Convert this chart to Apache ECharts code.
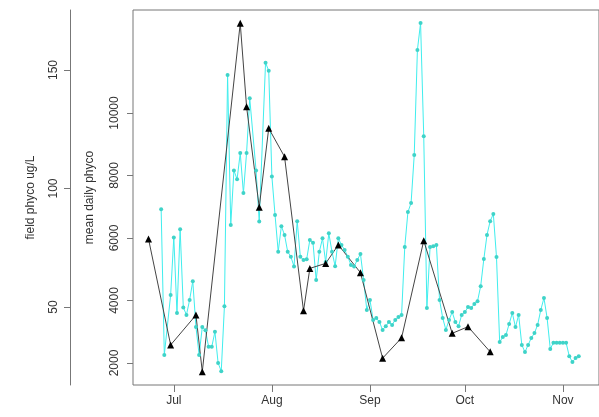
<!DOCTYPE html>
<html>
<head>
<meta charset="utf-8">
<script src="https://cdn.jsdelivr.net/npm/echarts@6/dist/echarts.min.js"></script>
<style>
html,body{margin:0;padding:0;background:#fff;}
#c{width:599px;height:417px;}
</style>
</head>
<body>
<div id="c"></div>
<script>
// Month ticks (day of year) and labels
const monthTicks = [182, 213, 244, 274, 305];
const monthLabels = ['Jul', 'Aug', 'Sep', 'Oct', 'Nov'];

// Field samples (black triangles, outer axis)
const fieldDays  = [174, 181, 189, 191, 203, 205, 209, 212, 217, 223, 225, 230, 234, 241, 248, 254, 261, 270, 275, 282];
const fieldPhyco = [78.7, 34.0, 46.6, 22.7, 169.7, 134.5, 92.1, 125.4, 113.4, 48.4, 66.3, 68.4, 76.2, 64.5, 28.4, 37.0, 78.0, 38.9, 41.7, 31.1];

// Mean daily phyco (cyan points, inner axis)
const dailyDays = [178,179,181,182,183,184,185,186,187,188,189,190,191,192,193,194,195,196,197,198,199,200,201,202,203,204,205,206,208,209,211,212,213,214,215,216,217,218,219,220,221,222,223,224,225,226,227,228,229,230,231,232,233,234,235,236,237,238,239,240,241,242,243,244,245,246,247,248,249,250,251,252,253,254,255,256,257,258,259,260,261,262,263,264,265,266,267,268,269,270,271,272,273,274,275,276,277,278,279,280,281,282,283,284,285,286,287,288,289,290,291,292,293,294,295,296,297,298,299,300,301,302,303,304,305,306,307,308,309,310];
const dailyPhyco = [6920,2260,4180,6020,3600,6280,3780,3540,4020,4620,3150,2260,3150,3050,2520,2520,3000,2000,1740,3820,11220,6420,8160,7880,8720,7440,8720,10470,8160,6530,11610,11350,7970,6740,5560,6380,6100,5560,5400,5090,6540,5400,5300,5320,5940,5850,4660,5560,5990,5230,6150,5560,5100,5990,5780,5620,5400,5140,5090,5300,5490,4660,3700,4020,3380,3440,3310,3060,3180,3310,3220,3380,3470,3540,5710,6830,7120,8660,12020,12880,9260,3760,5710,5740,5780,4020,3440,3060,3380,3630,3310,3180,3540,3630,3790,3760,3890,3980,4460,5330,6100,6540,6770,5390,2670,2830,2900,3250,3600,3150,3540,2580,2350,2580,2800,2960,3220,3700,4080,3440,2450,2650,2650,2650,2650,2650,2220,2030,2160,2220];

// Tick values
const fieldTicks = [50, 100, 150];
const dailyTicks = [2000, 4000, 6000, 8000, 10000];

const txt = {color: '#333', fontFamily: 'Liberation Sans, Arial, sans-serif', fontSize: 12};

const chart = echarts.init(document.getElementById('c'), null, {renderer: 'canvas'});
chart.setOption({
  animation: false,
  backgroundColor: '#fff',
  grid: {left: 133, top: 10, width: 480, height: 375, show: true, borderColor: '#777', borderWidth: 1, backgroundColor: 'transparent'},
  xAxis: {
    type: 'value', min: 169.1, max: 316.4,
    axisLine: {show: false},
    splitLine: {show: false},
    axisTick: {show: true, customValues: monthTicks, length: 7, lineStyle: {color: '#777'}},
    axisLabel: Object.assign({customValues: monthTicks, margin: 10,
      formatter: v => monthLabels[monthTicks.indexOf(v)]}, txt)
  },
  yAxis: [
    {
      type: 'value', position: 'left', offset: 63, min: 17.1, max: 175.3,
      name: 'field phyco ug/L', nameLocation: 'middle', nameGap: 33, nameRotate: 90,
      nameTextStyle: txt,
      axisLine: {show: true, lineStyle: {color: '#777'}},
      splitLine: {show: false},
      axisTick: {show: true, customValues: fieldTicks, length: 6, lineStyle: {color: '#777'}},
      axisLabel: Object.assign({customValues: fieldTicks, rotate: 90, margin: 10,
        formatter: v => String(v)}, txt)
    },
    {
      type: 'value', position: 'left', offset: 0, min: 1296, max: 13296,
      name: 'mean daily phyco', nameLocation: 'middle', nameGap: 37, nameRotate: 90,
      nameTextStyle: txt,
      axisLine: {show: false},
      splitLine: {show: false},
      axisTick: {show: true, customValues: dailyTicks, length: 6, lineStyle: {color: '#777'}},
      axisLabel: Object.assign({customValues: dailyTicks, rotate: 90, margin: 12,
        formatter: v => String(v)}, txt)
    }
  ],
  series: [
    {
      type: 'line', yAxisIndex: 1,
      data: dailyDays.map((d, i) => [d, dailyPhyco[i]]),
      symbol: 'circle', symbolSize: 4, showSymbol: true,
      itemStyle: {color: '#3fd3c8'},
      lineStyle: {color: '#40eeee', width: 1}
    },
    {
      type: 'line', yAxisIndex: 0,
      data: fieldDays.map((d, i) => [d, fieldPhyco[i]]),
      symbol: 'triangle', symbolSize: 7, showSymbol: true,
      itemStyle: {color: '#000'},
      lineStyle: {color: '#444', width: 1}
    }
  ]
});
</script>
</body>
</html>
